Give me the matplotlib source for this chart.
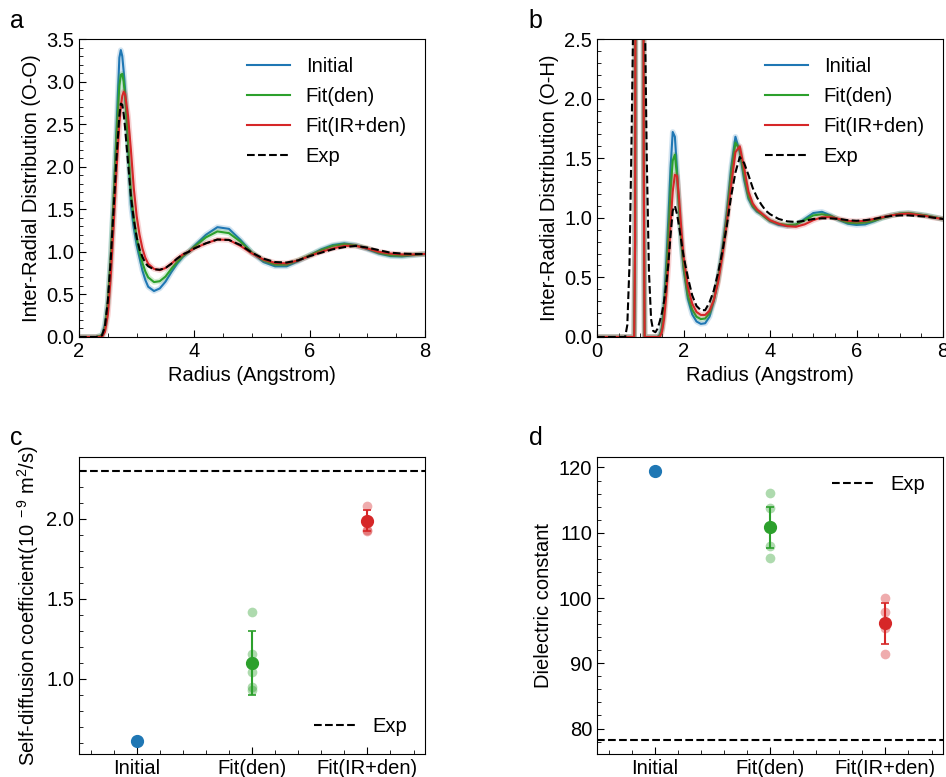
import numpy as np
import matplotlib.pyplot as plt
from matplotlib.ticker import MultipleLocator

plt.rcParams['font.family'] = ['Liberation Sans', 'DejaVu Sans']
plt.rcParams['mathtext.fontset'] = 'custom'
plt.rcParams['mathtext.rm'] = 'Liberation Sans'
plt.rcParams['mathtext.it'] = 'Liberation Sans:italic'

## Panel a: O-O radial distribution
r_oo = np.array([2.0, 2.3, 2.4, 2.45, 2.5, 2.55, 2.6, 2.65, 2.7, 2.725, 2.75, 2.775, 2.8,
                 2.85, 2.9, 2.95, 3.0, 3.05, 3.1, 3.15, 3.2, 3.3, 3.4, 3.5, 3.6, 3.7, 3.8,
                 3.9, 4.0, 4.2, 4.4, 4.6, 4.8, 5.0, 5.2, 5.4, 5.6, 5.8, 6.0, 6.2, 6.4, 6.6,
                 6.8, 7.0, 7.2, 7.4, 7.6, 7.8, 8.0])
g_oo_initial = np.array([0, 0, 0.02, 0.15, 0.42, 0.95, 1.65, 2.45, 3.28, 3.37, 3.30, 3.12, 2.9,
                         2.25, 1.55, 1.28, 1.08, 0.93, 0.78, 0.67, 0.59, 0.54, 0.57, 0.65, 0.76,
                         0.86, 0.94, 1.0, 1.07, 1.2, 1.29, 1.27, 1.14, 0.99, 0.88, 0.83, 0.83,
                         0.89, 0.96, 1.03, 1.08, 1.10, 1.08, 1.03, 0.98, 0.95, 0.945, 0.96, 0.975])
g_oo_fitden = np.array([0, 0, 0.02, 0.11, 0.40, 0.92, 1.6, 2.35, 2.95, 3.08, 3.09, 3.0, 2.82,
                        2.3, 1.7, 1.4, 1.17, 1.0, 0.87, 0.77, 0.70, 0.645, 0.655, 0.71, 0.8,
                        0.88, 0.95, 1.0, 1.06, 1.17, 1.24, 1.22, 1.12, 0.99, 0.9, 0.85, 0.85,
                        0.9, 0.96, 1.02, 1.07, 1.09, 1.075, 1.04, 0.99, 0.96, 0.955, 0.965, 0.975])
g_oo_fitir = np.array([0, 0, 0.0, 0.06, 0.26, 0.7, 1.3, 1.95, 2.5, 2.7, 2.83, 2.88, 2.85,
                       2.6, 2.2, 1.75, 1.42, 1.2, 1.04, 0.93, 0.86, 0.8, 0.785, 0.81, 0.86,
                       0.92, 0.97, 1.0, 1.04, 1.1, 1.145, 1.14, 1.07, 0.98, 0.91, 0.87, 0.865,
                       0.9, 0.95, 1.0, 1.04, 1.07, 1.07, 1.04, 1.0, 0.98, 0.97, 0.97, 0.975])
g_oo_exp = np.array([0, 0, 0.02, 0.12, 0.42, 0.9, 1.5, 2.1, 2.6, 2.74, 2.73, 2.62, 2.45,
                     2.05, 1.65, 1.38, 1.17, 1.03, 0.94, 0.87, 0.83, 0.795, 0.79, 0.81, 0.86,
                     0.92, 0.97, 1.0, 1.04, 1.1, 1.145, 1.14, 1.08, 0.99, 0.92, 0.88, 0.875,
                     0.9, 0.95, 0.99, 1.03, 1.055, 1.07, 1.05, 1.02, 0.99, 0.98, 0.975, 0.975])

## Panel b: O-H radial distribution
r_oh = np.array([0.0, 0.6, 0.65, 0.7, 0.75, 0.8, 0.83, 0.86, 0.88, 0.9, 0.95, 1.0, 1.05, 1.08,
                 1.1, 1.15, 1.2, 1.25, 1.3, 1.35, 1.4, 1.45, 1.5, 1.55, 1.6, 1.65, 1.7, 1.75,
                 1.8, 1.85, 1.9, 1.95, 2.0, 2.1, 2.2, 2.3, 2.4, 2.5, 2.6, 2.7, 2.8, 2.9, 3.0,
                 3.1, 3.2, 3.3, 3.4, 3.5, 3.6, 3.7, 3.8, 3.9, 4.0, 4.2, 4.4, 4.6, 4.8, 5.0,
                 5.2, 5.4, 5.6, 5.8, 6.0, 6.2, 6.4, 6.6, 6.8, 7.0, 7.2, 7.4, 7.6, 7.8, 8.0])
g_oh_initial = np.array([0, 0, 0, 0, 0, 0, 0, 0, 0.8, 6, 30, 35, 10, 1.5,
                         0, 0, 0, 0, 0, 0, 0, 0.02, 0.08, 0.3, 0.62, 1.0, 1.42, 1.72,
                         1.68, 1.4, 1.05, 0.78, 0.57, 0.32, 0.19, 0.13, 0.11, 0.115, 0.17, 0.3, 0.5, 0.75, 1.05,
                         1.42, 1.68, 1.55, 1.32, 1.16, 1.09, 1.05, 1.03, 1.0, 0.97, 0.94, 0.93, 0.94, 0.99, 1.04,
                         1.05, 1.02, 0.98, 0.95, 0.94, 0.945, 0.97, 1.0, 1.02, 1.035, 1.04, 1.03, 1.02, 1.005, 0.99])
g_oh_fitden = np.array([0, 0, 0, 0, 0, 0, 0, 0, 0.8, 6, 30, 35, 10, 1.5,
                        0, 0, 0, 0, 0, 0, 0, 0.01, 0.06, 0.22, 0.5, 0.85, 1.22, 1.48,
                        1.53, 1.35, 1.06, 0.8, 0.6, 0.35, 0.23, 0.17, 0.15, 0.155, 0.2, 0.31, 0.48, 0.72, 1.0,
                        1.36, 1.63, 1.57, 1.36, 1.18, 1.1, 1.06, 1.03, 1.0, 0.975, 0.95, 0.94, 0.945, 0.98, 1.02,
                        1.03, 1.015, 0.985, 0.96, 0.955, 0.96, 0.975, 1.0, 1.02, 1.035, 1.04, 1.03, 1.02, 1.005, 0.99])
g_oh_fitir = np.array([0, 0, 0, 0, 0, 0, 0, 0, 0.8, 6, 30, 35, 10, 1.5,
                       0, 0, 0, 0, 0, 0, 0, 0.0, 0.04, 0.15, 0.35, 0.6, 0.95, 1.22,
                       1.36, 1.35, 1.15, 0.9, 0.68, 0.42, 0.28, 0.21, 0.185, 0.185, 0.22, 0.31, 0.46, 0.68, 0.95,
                       1.27, 1.55, 1.6, 1.42, 1.22, 1.12, 1.07, 1.04, 1.01, 0.98, 0.95, 0.93, 0.925, 0.945, 0.98,
                       1.005, 1.005, 0.99, 0.975, 0.97, 0.975, 0.99, 1.005, 1.02, 1.03, 1.035, 1.025, 1.015, 1.0, 0.99])
g_oh_exp = np.array([0, 0, 0.0, 0.1, 0.6, 1.7, 2.5, 3.4, 4.0, 4.6, 5.6, 5.8, 4.8, 3.6,
                     2.9, 1.5, 0.55, 0.15, 0.05, 0.04, 0.07, 0.13, 0.2, 0.3, 0.44, 0.62, 0.85, 1.06,
                     1.1, 1.03, 0.92, 0.8, 0.68, 0.5, 0.35, 0.26, 0.225, 0.225, 0.29, 0.39, 0.54, 0.72, 0.93,
                     1.18, 1.38, 1.51, 1.46, 1.36, 1.25, 1.17, 1.11, 1.06, 1.03, 0.99, 0.97, 0.965, 0.975, 0.99,
                     0.995, 0.995, 0.99, 0.98, 0.975, 0.98, 0.99, 1.005, 1.015, 1.02, 1.02, 1.015, 1.01, 1.0, 0.99])

## Panels c, d: properties
methods = ['Initial', 'Fit(den)', 'Fit(IR+den)']

diff_initial = 0.614
diff_fitden_runs = [1.42, 1.154, 1.041, 0.946, 0.93]
diff_fitir_runs = [2.081, 1.99, 1.98, 1.93, 1.92]
diff_mean = [1.098, 1.987]
diff_err = [0.20, 0.066]
diff_exp = 2.30

diel_initial = 119.5
diel_fitden_runs = [116.1, 113.8, 110.9, 107.9, 106.1]
diel_fitir_runs = [100.0, 97.85, 95.4, 91.4, 96.0]
diel_mean = [110.85, 96.1]
diel_err = [3.15, 3.2]
diel_exp = 78.2

colors = ['#1f77b4', '#2ca02c', '#d62728']
labels = ['Initial', 'Fit(den)', 'Fit(IR+den)']

FS = 14.5


def style(ax):
    ax.tick_params(which='both', direction='in', labelsize=FS)
    ax.tick_params(which='major', length=5)
    ax.tick_params(which='minor', length=3)


fig = plt.figure(figsize=(9.46, 7.77), dpi=100)
ax_a = fig.add_axes([0.0835, 0.5663, 0.3658, 0.3835])
ax_b = fig.add_axes([0.6311, 0.5663, 0.3658, 0.3835])
ax_c = fig.add_axes([0.0835, 0.0296, 0.3658, 0.3822])
ax_d = fig.add_axes([0.6311, 0.0296, 0.3658, 0.3822])

## RDF panels
for ax, r, curves, exp, ylab in [
        (ax_a, r_oo, [g_oo_initial, g_oo_fitden, g_oo_fitir], g_oo_exp, 'Inter-Radial Distribution (O-O)'),
        (ax_b, r_oh, [g_oh_initial, g_oh_fitden, g_oh_fitir], g_oh_exp, 'Inter-Radial Distribution (O-H)')]:
    for g, c, lab in zip(curves, colors, labels):
        ax.plot(r, g, color=c, lw=4, alpha=0.2)
        ax.plot(r, g, color=c, lw=1.5, label=lab)
    ax.plot(r, exp, 'k--', lw=1.5, label='Exp')
    ax.set_xlabel('Radius (Angstrom)', fontsize=FS)
    ax.set_ylabel(ylab, fontsize=FS)
    ax.xaxis.set_major_locator(MultipleLocator(2))
    ax.xaxis.set_minor_locator(MultipleLocator(0.5))
    ax.yaxis.set_major_locator(MultipleLocator(0.5))
    ax.yaxis.set_minor_locator(MultipleLocator(0.1))
    ax.yaxis.set_major_formatter('{x:.1f}')
    ax.legend(frameon=False, fontsize=FS, handlelength=2.1, handletextpad=0.8, labelspacing=0.55)
    style(ax)

ax_a.set_xlim(2, 8)
ax_a.set_ylim(0, 3.5)
ax_b.set_xlim(0, 8)
ax_b.set_ylim(0, 2.5)

## Property panels
for ax, init, runs, means, errs, exp, ylab, loc in [
        (ax_c, diff_initial, [diff_fitden_runs, diff_fitir_runs], diff_mean, diff_err, diff_exp,
         r'Self-diffusion coefficient(10$^{\ -9}$ m$^2$/s)', 'lower right'),
        (ax_d, diel_initial, [diel_fitden_runs, diel_fitir_runs], diel_mean, diel_err, diel_exp,
         'Dielectric constant', 'upper right')]:
    ax.plot(0, init, 'o', color=colors[0], ms=8.5)
    for i in range(2):
        x = i + 1
        ax.plot([x] * len(runs[i]), runs[i], 'o', color=colors[x], alpha=0.38, ms=7, mec='none')
        ax.errorbar(x, means[i], yerr=errs[i], fmt='o', color=colors[x], ms=8.5,
                    capsize=3, elinewidth=1.5, capthick=1.2)
    ax.axhline(exp, color='k', ls='--', lw=1.5, label='Exp')
    ax.set_xlim(-0.5, 2.5)
    ax.set_xticks([0, 1, 2])
    ax.set_xticklabels(methods)
    ax.xaxis.set_minor_locator(MultipleLocator(0.2))
    ax.set_ylabel(ylab, fontsize=FS)
    ax.legend(loc=loc, frameon=False, fontsize=FS, handlelength=2.1, handletextpad=0.8)
    style(ax)

ax_c.set_ylim(0.53, 2.385)
ax_c.yaxis.set_major_locator(MultipleLocator(0.5))
ax_c.yaxis.set_minor_locator(MultipleLocator(0.1))
ax_c.yaxis.set_major_formatter('{x:.1f}')
ax_d.set_ylim(76.1, 121.6)
ax_d.yaxis.set_major_locator(MultipleLocator(10))
ax_d.yaxis.set_minor_locator(MultipleLocator(2))

## Panel letters
fig.text(0.0106, 0.964, 'a', fontsize=18, va='baseline')
fig.text(0.559, 0.964, 'b', fontsize=18, va='baseline')
fig.text(0.0106, 0.427, 'c', fontsize=18, va='baseline')
fig.text(0.559, 0.427, 'd', fontsize=18, va='baseline')

fig.savefig('out.png', dpi=100)
